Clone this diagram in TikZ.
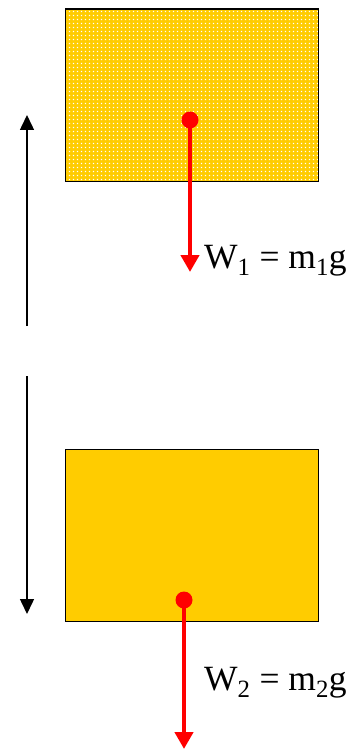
\documentclass[tikz,border=0pt]{standalone}
\usepackage{fontspec}
\setmainfont{Liberation Serif}
\usepackage{tikz}
\usetikzlibrary{arrows.meta, patterns, positioning}
\definecolor{blockgold}{RGB}{255, 204, 0}
\definecolor{forcered}{RGB}{255, 0, 0}
\pgfdeclarepatternformonly{squaredots}{\pgfpointorigin}{\pgfpoint{4pt}{4pt}}{\pgfpoint{4pt}{4pt}}{%
    \pgfpathrectangle{\pgfpoint{1pt}{1pt}}{\pgfpoint{1.6pt}{1.6pt}}%
    \pgfusepath{fill}}

\begin{document}
\begin{tikzpicture}[
        x=1pt, y=-1pt,
        block/.style={rectangle, draw=black, line width=1.5pt, minimum width=253pt, minimum height=172pt, inner sep=0pt},
        dotted block/.style={block, preaction={fill=blockgold}, pattern=squaredots, pattern color=white},
        solid block/.style={block, fill=blockgold},
        cg/.style={circle, fill=forcered, minimum size=17pt, inner sep=0pt},
        force/.style={forcered, line width=4.5pt, -{Triangle[width=18pt, length=17pt]}},
        motion/.style={black, line width=1.5pt, -{Triangle[width=14pt, length=15pt]}},
        label/.style={font=\fontsize{35.5}{37}\selectfont, anchor=base west, inner sep=0pt}
    ]
        \useasboundingbox (0,0) rectangle (355,749);

        % upper block, moving up
        \node [dotted block, anchor=north west] (top) at (64.5,8.5) {};
        \node [cg] (g1) at (190,120) {};
        \coordinate (w1end) at (190,272);
        \node [label] (lab1) at (204,268) {W\textsubscript{1} = m\textsubscript{1}g};
        \draw [force] (g1.center) -- (w1end);

        \coordinate (upfrom) at (27,326);
        \coordinate (upto) at (27,115);
        \draw [motion] (upfrom) -- (upto);

        % lower block, moving down
        \node [solid block, anchor=north west] (bottom) at (64.5,448.5) {};
        \node [cg] (g2) at (184,600) {};
        \coordinate (w2end) at (184,749);
        \node [label] (lab2) at (204,690) {W\textsubscript{2} = m\textsubscript{2}g};
        \draw [force] (g2.center) -- (w2end);

        \coordinate (downfrom) at (27,376);
        \coordinate (downto) at (27,614);
        \draw [motion] (downfrom) -- (downto);
    \end{tikzpicture}
\end{document}
